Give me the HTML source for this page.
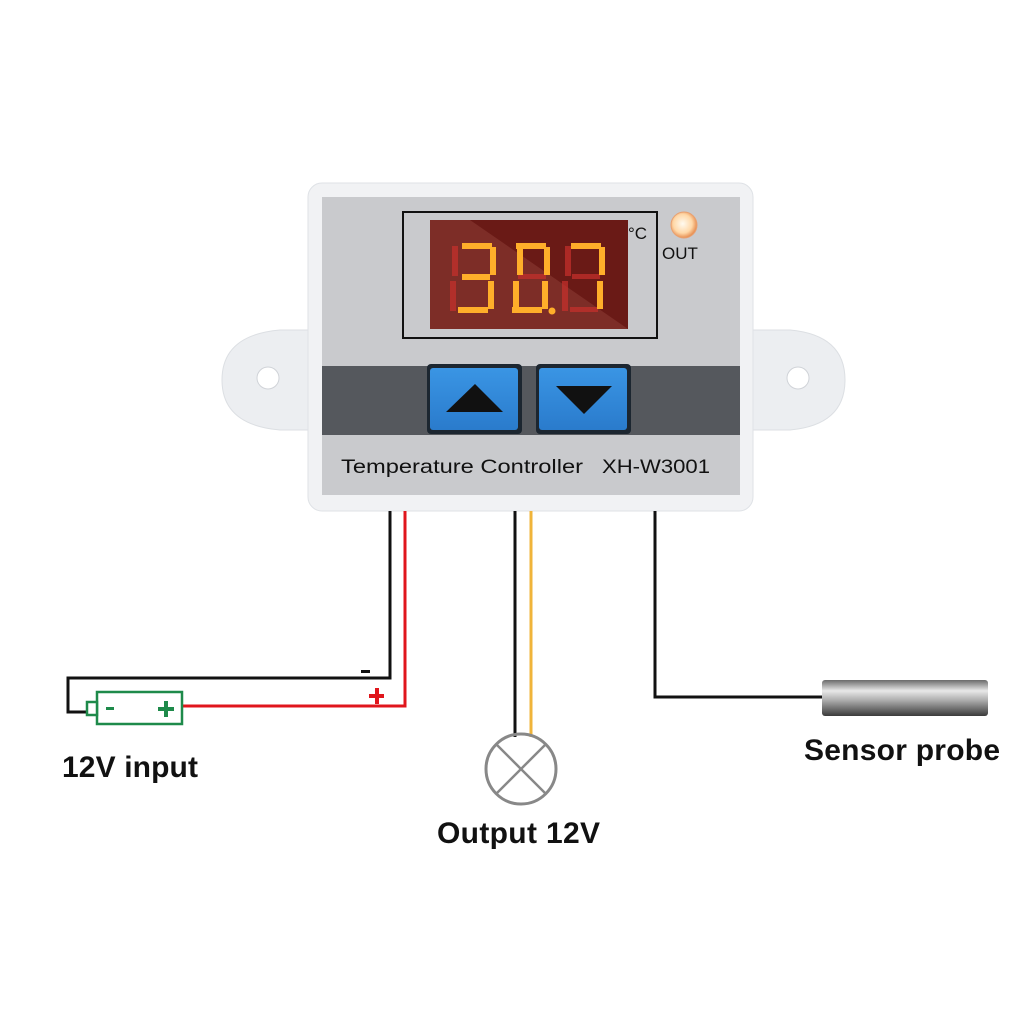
<!DOCTYPE html>
<html><head><meta charset="utf-8"><style>
html,body{margin:0;padding:0;background:#fff;width:1024px;height:1024px;overflow:hidden}
svg{display:block}
</style></head><body>
<svg width="1024" height="1024" viewBox="0 0 1024 1024" xmlns="http://www.w3.org/2000/svg">
<defs>
<linearGradient id="probe" x1="0" y1="0" x2="0" y2="1">
<stop offset="0" stop-color="#6a6a6a"/><stop offset="0.3" stop-color="#e8e8e8"/><stop offset="0.55" stop-color="#b0b0b0"/><stop offset="1" stop-color="#3a3a3a"/>
</linearGradient>
<radialGradient id="led" cx="0.45" cy="0.45" r="0.6">
<stop offset="0" stop-color="#fffaf0"/><stop offset="0.6" stop-color="#ffd8a8"/><stop offset="1" stop-color="#e07a3a"/>
</radialGradient>
<linearGradient id="btn" x1="0" y1="0" x2="0" y2="1">
<stop offset="0" stop-color="#3a95e4"/><stop offset="1" stop-color="#2a7bcc"/>
</linearGradient>
</defs>
<path d="M310 330 L280 330 Q222 335 222 380 Q222 425 280 430 L310 430 Z" fill="#eceef1" stroke="#dcdfe3"/>
<circle cx="268" cy="378" r="11" fill="#fff" stroke="#d0d3d8"/>
<path d="M750 330 L790 330 Q845 335 845 380 Q845 425 790 430 L750 430 Z" fill="#eceef1" stroke="#dcdfe3"/>
<circle cx="798" cy="378" r="11" fill="#fff" stroke="#d0d3d8"/>
<rect x="308" y="183" width="445" height="328" rx="14" fill="#f1f2f4" stroke="#dfe2e6"/>
<rect x="322" y="197" width="418" height="298" fill="#c9cacd"/>
<rect x="403" y="212" width="254" height="126" fill="none" stroke="#111" stroke-width="2"/>
<rect x="430" y="220" width="198" height="109" fill="#6a1a16"/>
<polygon points="430,220 470,220 628,329 430,329" fill="#8a3a34" opacity="0.6"/>
<g fill="#c8302c" opacity="0.7">
<rect x="452" y="246" width="6" height="30"/><rect x="450" y="281" width="6" height="30"/>
<rect x="518" y="274" width="28" height="5"/>
<rect x="562" y="281" width="6" height="30"/><rect x="572" y="274" width="28" height="5"/><rect x="570" y="307" width="28" height="5"/><rect x="565" y="246" width="6" height="30"/>
</g>
<g fill="#ffae2a">
<rect x="462" y="243" width="30" height="6"/><rect x="490" y="247" width="6" height="28"/>
<rect x="462" y="274" width="28" height="6"/><rect x="488" y="281" width="6" height="28"/>
<rect x="458" y="307" width="30" height="6"/>
<rect x="516" y="243" width="30" height="6"/><rect x="544" y="247" width="6" height="28"/>
<rect x="542" y="281" width="6" height="28"/><rect x="512" y="307" width="30" height="6"/>
<rect x="517" y="247" width="6" height="28"/><rect x="513" y="281" width="6" height="28"/>
<circle cx="552" cy="311" r="3.5"/>
<rect x="571" y="243" width="30" height="6"/><rect x="599" y="247" width="6" height="28"/><rect x="597" y="281" width="6" height="28"/>
</g>
<text x="628" y="239" font-family="Liberation Sans, sans-serif" font-size="17" fill="#111">°C</text>
<circle cx="684" cy="225" r="13" fill="url(#led)" stroke="#e8a070"/>
<text x="662" y="259" font-family="Liberation Sans, sans-serif" font-size="17" fill="#111">OUT</text>
<rect x="322" y="366" width="418" height="69" fill="#55585d"/>
<rect x="427" y="364" width="95" height="70" rx="4" fill="#1c2630"/>
<rect x="430" y="368" width="88" height="62" rx="3" fill="url(#btn)"/>
<polygon points="446,412 503,412 475,384" fill="#111"/>
<rect x="536" y="364" width="95" height="70" rx="4" fill="#1c2630"/>
<rect x="539" y="368" width="88" height="62" rx="3" fill="url(#btn)"/>
<polygon points="556,386 612,386 584,414" fill="#111"/>
<text x="341" y="473" font-family="Liberation Sans, sans-serif" font-size="19" fill="#111" textLength="242" lengthAdjust="spacingAndGlyphs">Temperature Controller</text>
<text x="602" y="473" font-family="Liberation Sans, sans-serif" font-size="19" fill="#111" textLength="108" lengthAdjust="spacingAndGlyphs">XH-W3001</text>
<g fill="none" stroke-width="3">
<polyline points="390,511 390,678 68,678 68,712 86,712" stroke="#111"/>
<polyline points="405,511 405,706 182,706" stroke="#e0161c"/>
<line x1="515" y1="511" x2="515" y2="737" stroke="#111"/>
<line x1="531" y1="511" x2="531" y2="737" stroke="#f0b43a"/>
<polyline points="655,511 655,697 822,697" stroke="#111"/>
</g>
<rect x="361" y="670" width="9" height="3" fill="#111"/>
<rect x="369" y="694" width="15" height="4" fill="#e0161c"/><rect x="375" y="688" width="4" height="16" fill="#e0161c"/>
<rect x="97" y="692" width="85" height="32" fill="#fff" stroke="#1e8a4a" stroke-width="2.5"/>
<rect x="87" y="702" width="10" height="13" fill="#fff" stroke="#1e8a4a" stroke-width="2.5"/>
<rect x="106" y="707" width="8" height="3" fill="#1e8a4a"/>
<rect x="158" y="707" width="16" height="4" fill="#1e8a4a"/><rect x="164" y="701" width="4" height="16" fill="#1e8a4a"/>
<circle cx="521" cy="769" r="35" fill="none" stroke="#888" stroke-width="3"/>
<line x1="496" y1="744" x2="546" y2="794" stroke="#888" stroke-width="2.5"/>
<line x1="546" y1="744" x2="496" y2="794" stroke="#888" stroke-width="2.5"/>
<rect x="822" y="680" width="166" height="36" rx="3" fill="url(#probe)"/>
<g font-family="Liberation Sans, sans-serif" font-weight="bold" font-size="30" fill="#111">
<text x="62" y="777" textLength="136">12V input</text>
<text x="437" y="843" textLength="163">Output 12V</text>
<text x="804" y="760" textLength="196">Sensor probe</text>
</g>
</svg>
</body></html>
